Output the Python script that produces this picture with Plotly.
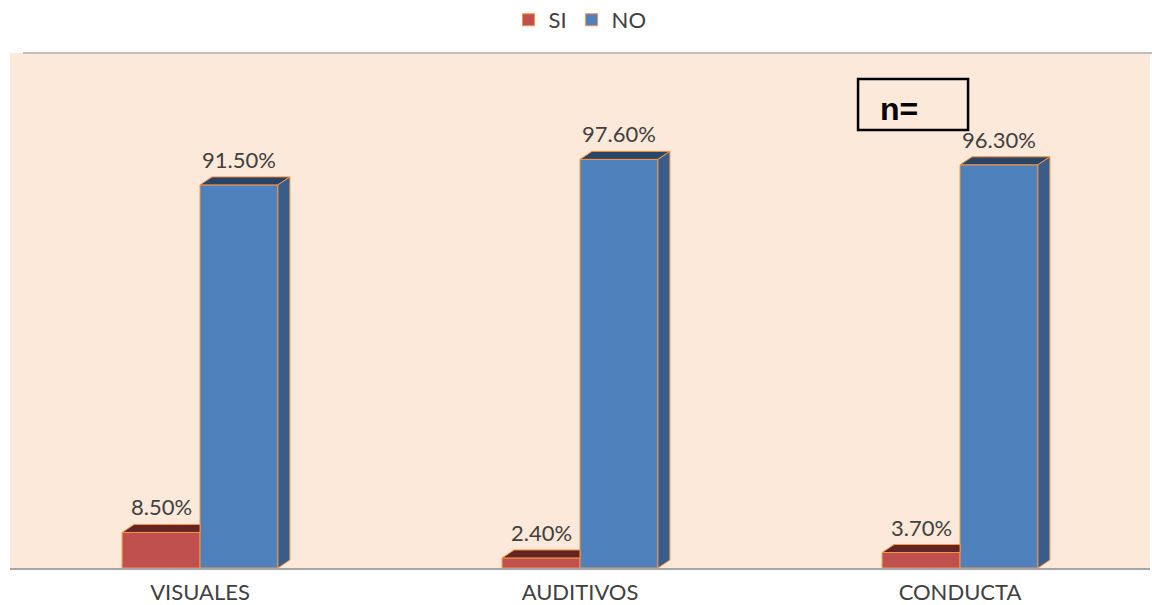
import plotly.graph_objects as go

# Data
categories = ["VISUALES", "AUDITIVOS", "CONDUCTA"]
si_values = [8.5, 2.4, 3.7]
no_values = [91.5, 97.6, 96.3]

# Geometry of the pseudo-3D bars (in axis units)
BAR_W = 0.205          # width of one bar
DX = 0.0316            # depth offset to the right
DY = 1.91              # depth offset upward
Y_MAX = 123

FONT = "Lato, Open Sans, sans-serif"

series = [
    dict(name="SI", values=si_values, offset=-BAR_W,
         front="#C0504D", top="#632523", side="#8C3836"),
    dict(name="NO", values=no_values, offset=0.0,
         front="#4F81BD", top="#2A4466", side="#385D8A"),
]
EDGE = "#F79646"

fig = go.Figure()

# Front faces as real bars
for s in series:
    fig.add_trace(go.Bar(
        x=list(range(len(categories))), y=s["values"], name=s["name"],
        width=BAR_W, offset=s["offset"],
        marker=dict(color=s["front"], line=dict(color=EDGE, width=1)),
        hoverinfo="skip",
    ))

# Top and side faces
for k, s in enumerate(series):
    for i, v in enumerate(s["values"]):
        x0 = i + s["offset"]
        x1 = x0 + BAR_W
        if k == 0:
            # left bar: its right part sits behind the taller neighbour
            tx = [x0, x1, x1, x0 + DX, x0]
            ty = [v, v, v + DY, v + DY, v]
            fig.add_trace(go.Scatter(
                x=tx, y=ty, mode="lines", fill="toself",
                fillcolor=s["top"], line=dict(color=EDGE, width=1),
                showlegend=False, hoverinfo="skip"))
        else:
            tx = [x0, x1, x1 + DX, x0 + DX, x0]
            ty = [v, v, v + DY, v + DY, v]
            fig.add_trace(go.Scatter(
                x=tx, y=ty, mode="lines", fill="toself",
                fillcolor=s["top"], line=dict(color=EDGE, width=1),
                showlegend=False, hoverinfo="skip"))
            sx = [x1, x1 + DX, x1 + DX, x1, x1]
            sy = [0, DY, v + DY, v, 0]
            fig.add_trace(go.Scatter(
                x=sx, y=sy, mode="lines", fill="toself",
                fillcolor=s["side"], line=dict(color=EDGE, width=1),
                showlegend=False, hoverinfo="skip"))

# Value labels
annotations = []
for s in series:
    for i, v in enumerate(s["values"]):
        annotations.append(dict(
            x=i + s["offset"] + BAR_W / 2, y=v + DY,
            text=f"{v:.2f}%", showarrow=False, yanchor="bottom", yshift=2,
            font=dict(family=FONT, size=22, color="#404040"),
        ))

annotations.append(dict(
    x=0.761, y=0.891, xref="paper", yref="paper", text="<b>n=</b>",
    showarrow=False, xanchor="left", yanchor="middle",
    font=dict(family="Liberation Sans, Arial, sans-serif", size=32, color="#000000"),
))

fig.update_layout(
    width=1152, height=605,
    margin=dict(l=10, r=2, t=53, b=37, autoexpand=False),
    paper_bgcolor="#FFFFFF",
    plot_bgcolor="#FDE9D9",
    barmode="overlay",
    showlegend=True,
    legend=dict(orientation="h", x=0.5, xanchor="center",
                yref="container", y=0.967, yanchor="middle",
                bgcolor="rgba(0,0,0,0)",
                font=dict(family=FONT, size=22, color="#404040"),
                traceorder="normal", itemwidth=30),
    xaxis=dict(
        range=[-0.5, 2.5], tickmode="array", tickvals=list(range(len(categories))),
        ticktext=categories, showgrid=False, zeroline=False,
        showline=True, linecolor="#A6A6A6", linewidth=2, ticks="",
        ticklabelstandoff=4, automargin=False,
        tickfont=dict(family=FONT, size=22, color="#404040"),
        fixedrange=True,
    ),
    yaxis=dict(range=[0, Y_MAX], visible=False, showgrid=False, zeroline=False,
               fixedrange=True, automargin=False),
    annotations=annotations,
    shapes=[
        dict(type="rect", xref="paper", yref="paper",
             x0=0.7439, x1=0.8404, y0=0.8505, y1=0.9495,
             line=dict(color="#000000", width=2.5), fillcolor="rgba(0,0,0,0)"),
        dict(type="line", xref="paper", yref="paper",
             x0=0.0114, x1=1.0018, y0=1.0, y1=1.0,
             line=dict(color="#BFBFBF", width=2)),
    ],
)

fig.write_html("out.html")
